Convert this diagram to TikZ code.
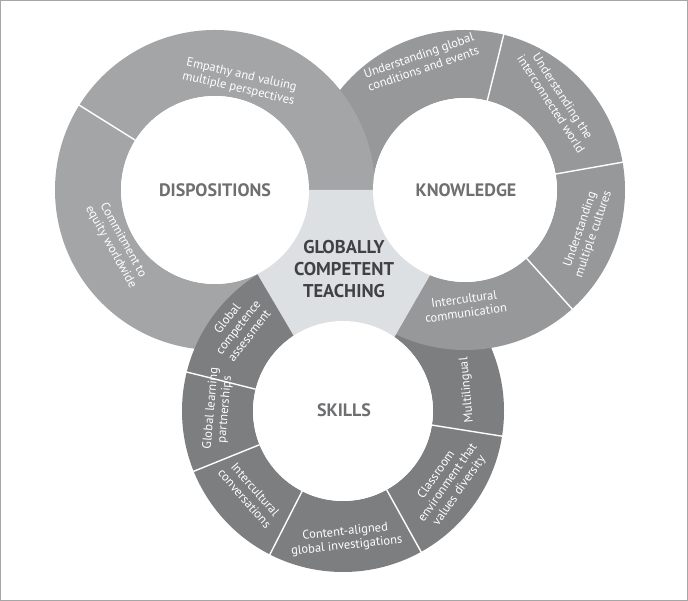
\documentclass[tikz,border=0pt]{standalone}
\usepackage{fontspec}
\usetikzlibrary{calc}
\setmainfont{PT Sans}
\definecolor{dcol}{HTML}{A4A5A7}
\definecolor{kcol}{HTML}{97989A}
\definecolor{scol}{HTML}{7D7E80}
\definecolor{ccol}{HTML}{DCE0E3}
\definecolor{tcol}{HTML}{6E6F71}
\definecolor{mcol}{HTML}{404143}
\begin{document}
\begin{tikzpicture}[x=1pt,y=1pt,
  seg/.style={white,line width=1.4pt},
  lab/.style={text=white,font=\fontsize{12.5}{14}\selectfont,align=center,inner sep=0pt},
  ttl/.style={text=tcol,font=\bfseries\fontsize{18}{20}\selectfont}]
\useasboundingbox (0,0) rectangle (688,601);
\fill[white] (0,0) rectangle (688,601);
\draw[gray!70,line width=0.8pt] (0.5,0.5) rectangle (687.5,600.5);
\coordinate (D) at (215,411);
\coordinate (K) at (465,411);
\coordinate (S) at (343,190);
% Dispositions ring
\fill[dcol,even odd rule] (D) circle (160) (D) circle (94);
\draw[seg] ($(D)+(148:94)$) -- ($(D)+(148:161)$);
% Skills ring
\fill[scol,even odd rule] (S) circle (161) (S) circle (90);
\foreach \a in {166,202,243,299,-9}
  \draw[seg] ($(S)+(\a:90)$) -- ($(S)+(\a:162)$);
% Knowledge ring
\fill[kcol,even odd rule] (K) circle (160) (K) circle (92);
\foreach \a in {76,10,-48}
  \draw[seg] ($(K)+(\a:92)$) -- ($(K)+(\a:161)$);
% Dispositions over Knowledge at top
\begin{scope}
\clip (290,411) rectangle (400,601);
\fill[dcol,even odd rule] (D) circle (160) (D) circle (94);
\end{scope}
% centre
\fill[ccol] (208,411) -- (479,411) -- (345,178) -- cycle;
\fill[white] (D) circle (94) (K) circle (92) (S) circle (90);
% titles
\node[ttl] (td) at (215,411) {DISPOSITIONS};
\node[ttl] (tk) at (466,411) {KNOWLEDGE};
\node[ttl] (ts) at (344,191) {SKILLS};
\node[text=mcol,font=\bfseries\fontsize{18.5}{22}\selectfont,align=center] (tc) at (344,332) {GLOBALLY\\COMPETENT\\TEACHING};
% labels
\node[lab,rotate=-13] (l1) at (240,519) {Empathy and valuing\\multiple perspectives};
\node[lab,rotate=-61] (l2) at (117,357) {Commitment to\\equity worldwide};
\node[lab,rotate=19] (l3) at (421,539) {Understanding global\\conditions and events};
\node[lab,rotate=-57] (l4) at (557,501) {Understanding the\\interconnected world};
\node[lab,rotate=71] (l5) at (587,369) {Understanding\\multiple cultures};
\node[lab,rotate=8] (l6) at (465,295) {Intercultural\\communication};
\node[lab,rotate=52] (l7) at (238,274) {Global\\competence\\assessment};
\node[lab,rotate=85] (l8) at (218,192) {Global learning\\partnerships};
\node[lab,rotate=-49] (l9) at (250,107) {Intercultural\\conversations};
\node[lab,rotate=6] (l10) at (346,62) {Content-aligned\\global investigations};
\node[lab,rotate=55] (l11) at (448,118) {Classroom\\environment that\\values diversity};
\node[lab,rotate=95] (l12) at (467,211) {Multilingual};
\end{tikzpicture}
\end{document}
